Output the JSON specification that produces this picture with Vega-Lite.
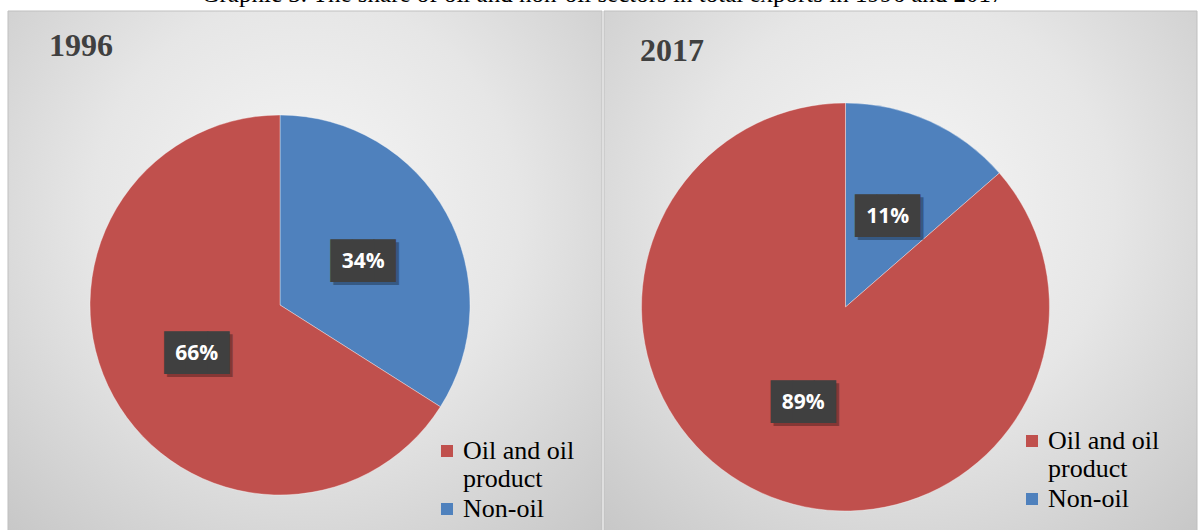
{
  "$schema": "https://vega.github.io/schema/vega-lite/v6.json",
  "background": "white",
  "padding": {"left": 7, "top": -19, "right": 0, "bottom": 0},
  "title": {"text": "Graphic 3. The share of oil and non-oil sectors in total exports in 1996 and 2017", "font": "Liberation Serif", "fontSize": 25, "fontWeight": "normal", "color": "#000000", "anchor": "middle", "offset": 4},
  "datasets": {
    "d1996": [
      {"sector": "Non-oil", "share": 34, "label": "34%"},
      {"sector": "Oil and oil product", "share": 66, "label": "66%"}
    ],
    "d2017": [
      {"sector": "Non-oil", "share": 13.6, "label": "11%"},
      {"sector": "Oil and oil product", "share": 86.4, "label": "89%"}
    ],
    "bg": [{"panel": "background"}]
  },
  "spacing": 0,
  "hconcat": [
    {
      "width": 594,
      "height": 520,
      "title": {"text": "1996", "anchor": "start", "offset": -52, "dx": 41, "font": "Liberation Serif", "fontSize": 32, "fontWeight": "bold", "color": "#404040", "frame": "group"},
      "layer": [
        {
          "data": {"name": "bg"},
          "mark": {"type": "rect", "stroke": "#bfbfbf", "strokeWidth": 1, "color": {"gradient": "radial", "x1": 0.5, "y1": 0.4, "r1": 0, "x2": 0.5, "y2": 0.4, "r2": 0.8, "stops": [{"offset": 0, "color": "#f6f6f6"}, {"offset": 0.45, "color": "#e6e6e6"}, {"offset": 1, "color": "#c2c2c2"}]}},
          "encoding": {}
        },
        {
          "data": {"name": "d1996"},
          "encoding": {
            "theta": {"field": "share", "type": "quantitative", "stack": true},
            "order": {"field": "sector", "sort": "ascending"}
          },
          "layer": [
            {
              "mark": {"type": "arc", "radius": 190, "xOffset": -25, "yOffset": 34, "stroke": "#ffffff", "strokeWidth": 0.6, "strokeOpacity": 0.6},
              "encoding": {
                "color": {
                  "field": "sector", "type": "nominal",
                  "scale": {"domain": ["Oil and oil product", "Non-oil"], "range": ["#C0504D", "#4F81BD"]},
                  "legend": {
                    "orient": "none", "legendX": 426, "legendY": 427, "title": null,
                    "symbolType": "square", "symbolSize": 144, "symbolStrokeWidth": 0,
                    "labelFont": "Liberation Serif", "labelFontSize": 26, "labelColor": "#000000", "labelLimit": 300,
                    "labelExpr": "datum.label == 'Oil and oil product' ? ['Oil and oil', 'product'] : datum.label",
                    "labelOffset": 3, "rowPadding": 4,
                    "encode": {
                      "symbols": {"update": {"fill": {"signal": "datum.value == 'Non-oil' ? '#0070C0' : '#C00000'"}, "stroke": {"value": "transparent"}}},
                      "labels": {"update": {"lineHeight": {"value": 31}}}
                    }
                  }
                }
              }
            },
            {
              "mark": {"type": "text", "radius": 95, "xOffset": -22, "yOffset": 40, "text": "███", "font": "DejaVu Sans Mono", "fontSize": 36, "color": "#000000", "opacity": 0.3},
              "encoding": {"detail": {"field": "sector"}}
            },
            {
              "mark": {"type": "text", "radius": 95, "xOffset": -25, "yOffset": 37, "text": "███", "font": "DejaVu Sans Mono", "fontSize": 36, "color": "#404040"},
              "encoding": {"detail": {"field": "sector"}}
            },
            {
              "mark": {"type": "text", "radius": 95, "xOffset": -25, "yOffset": 37, "font": "Open Sans", "fontSize": 21, "fontWeight": "bold", "color": "#ffffff"},
              "encoding": {"detail": {"field": "sector"}, "text": {"field": "label"}}
            }
          ]
        }
      ]
    },
    {
      "width": 593,
      "height": 520,
      "title": {"text": "2017", "anchor": "start", "offset": -57, "dx": 36, "font": "Liberation Serif", "fontSize": 32, "fontWeight": "bold", "color": "#404040", "frame": "group"},
      "layer": [
        {
          "data": {"name": "bg"},
          "mark": {"type": "rect", "stroke": "#bfbfbf", "strokeWidth": 1, "color": {"gradient": "radial", "x1": 0.5, "y1": 0.4, "r1": 0, "x2": 0.5, "y2": 0.4, "r2": 0.8, "stops": [{"offset": 0, "color": "#f6f6f6"}, {"offset": 0.45, "color": "#e6e6e6"}, {"offset": 1, "color": "#c2c2c2"}]}},
          "encoding": {}
        },
        {
          "data": {"name": "d2017"},
          "encoding": {
            "theta": {"field": "share", "type": "quantitative", "stack": true},
            "order": {"field": "sector", "sort": "ascending"}
          },
          "layer": [
            {
              "mark": {"type": "arc", "radius": 204, "xOffset": -55, "yOffset": 36, "stroke": "#ffffff", "strokeWidth": 0.6, "strokeOpacity": 0.6},
              "encoding": {
                "color": {
                  "field": "sector", "type": "nominal",
                  "scale": {"domain": ["Oil and oil product", "Non-oil"], "range": ["#C0504D", "#4F81BD"]},
                  "legend": {
                    "orient": "none", "legendX": 415, "legendY": 417, "title": null,
                    "symbolType": "square", "symbolSize": 144, "symbolStrokeWidth": 0,
                    "labelFont": "Liberation Serif", "labelFontSize": 26, "labelColor": "#000000", "labelLimit": 300,
                    "labelExpr": "datum.label == 'Oil and oil product' ? ['Oil and oil', 'product'] : datum.label",
                    "labelOffset": 3, "rowPadding": 4,
                    "encode": {
                      "symbols": {"update": {"fill": {"signal": "datum.value == 'Non-oil' ? '#0070C0' : '#C00000'"}, "stroke": {"value": "transparent"}}},
                      "labels": {"update": {"lineHeight": {"value": 31}}}
                    }
                  }
                }
              }
            },
            {
              "mark": {"type": "text", "radius": 102, "xOffset": -52, "yOffset": 42, "text": "███", "font": "DejaVu Sans Mono", "fontSize": 36, "color": "#000000", "opacity": 0.3},
              "encoding": {"detail": {"field": "sector"}}
            },
            {
              "mark": {"type": "text", "radius": 102, "xOffset": -55, "yOffset": 39, "text": "███", "font": "DejaVu Sans Mono", "fontSize": 36, "color": "#404040"},
              "encoding": {"detail": {"field": "sector"}}
            },
            {
              "mark": {"type": "text", "radius": 102, "xOffset": -55, "yOffset": 39, "font": "Open Sans", "fontSize": 21, "fontWeight": "bold", "color": "#ffffff"},
              "encoding": {"detail": {"field": "sector"}, "text": {"field": "label"}}
            }
          ]
        }
      ]
    }
  ],
  "resolve": {"scale": {"color": "independent", "theta": "independent"}, "legend": {"color": "independent"}},
  "config": {
    "view": {"stroke": "#bfbfbf"}
  }
}
